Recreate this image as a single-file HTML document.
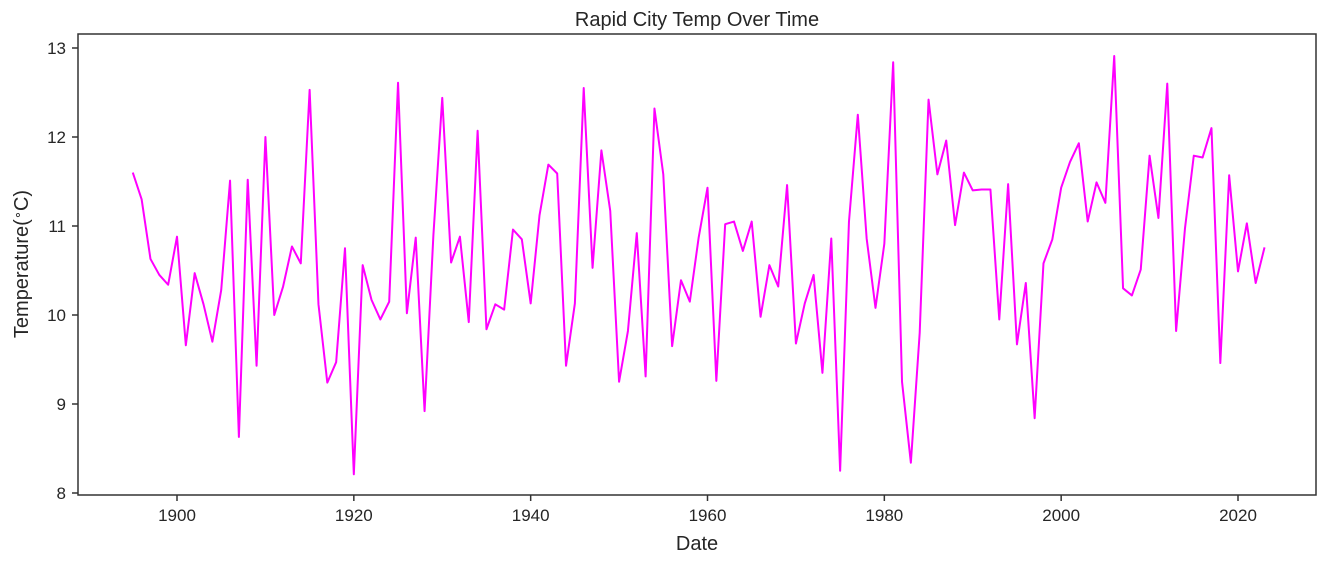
<!DOCTYPE html>
<html><head><meta charset="utf-8"><style>
body{margin:0;background:#fff;}
svg text{font-family:"Liberation Sans","DejaVu Sans",sans-serif;fill:#262626;}
</style></head><body>
<svg id="chart" width="1327" height="564" xmlns="http://www.w3.org/2000/svg">
<rect width="1327" height="564" fill="#fff"/>
<text x="697" y="26" font-size="20" text-anchor="middle">Rapid City Temp Over Time</text>
<text x="697" y="550" font-size="20" text-anchor="middle">Date</text>
<text x="28" y="264" font-size="20" text-anchor="middle" transform="rotate(-90 28 264)">Temperature(<tspan font-size="13" dy="-6">∘</tspan><tspan dy="6">C)</tspan></text>
<g id="ticks"></g>
<path id="line" fill="none" stroke="#ff00ff" stroke-width="2" stroke-linejoin="round"/>
<rect x="78" y="34" width="1238" height="461" fill="none" stroke="#333" stroke-width="1.5"/>
</svg>
<script>
const startYear = 1895;
const temps = [11.6,11.3,10.63,10.45,10.34,10.88,9.66,10.47,10.12,9.7,10.28,11.51,8.63,11.52,9.43,12.0,10.0,10.32,10.77,10.58,12.53,10.12,9.24,9.47,10.75,8.21,10.56,10.17,9.95,10.15,12.61,10.02,10.87,8.92,10.9,12.44,10.59,10.88,9.92,12.07,9.84,10.12,10.06,10.96,10.85,10.13,11.12,11.69,11.59,9.43,10.13,12.55,10.53,11.85,11.17,9.25,9.82,10.92,9.31,12.32,11.58,9.65,10.39,10.15,10.87,11.43,9.26,11.02,11.05,10.72,11.05,9.98,10.56,10.32,11.46,9.68,10.13,10.45,9.35,10.86,8.25,11.05,12.25,10.86,10.08,10.8,12.84,9.25,8.34,9.8,12.42,11.58,11.96,11.01,11.6,11.4,11.41,11.41,9.95,11.47,9.67,10.36,8.84,10.58,10.85,11.43,11.72,11.93,11.05,11.49,11.26,12.91,10.3,10.22,10.51,11.79,11.09,12.6,9.82,10.97,11.79,11.77,12.1,9.46,11.57,10.49,11.03,10.36,10.76];
const xTicks = [1900,1920,1940,1960,1980,2000,2020];
const yTicks = [8,9,10,11,12,13];
const xs = y => 177 + (y-1900)*(1238-177)/120;
const ys = v => 48 + (13-v)*89;
const NS='http://www.w3.org/2000/svg';
let d='';
temps.forEach((t,i)=>{d+=(i?'L':'M')+xs(startYear+i).toFixed(2)+' '+ys(t).toFixed(2);});
document.getElementById('line').setAttribute('d',d);
const g=document.getElementById('ticks');
xTicks.forEach(v=>{
  const l=document.createElementNS(NS,'line');
  l.setAttribute('x1',xs(v));l.setAttribute('x2',xs(v));l.setAttribute('y1',495);l.setAttribute('y2',501);l.setAttribute('stroke','#333');l.setAttribute('stroke-width','1.5');
  
  
  g.appendChild(l);
  const t=document.createElementNS(NS,'text');
  t.setAttribute('x',xs(v));t.setAttribute('y',521);t.setAttribute('font-size','17');t.setAttribute('text-anchor','middle');t.textContent=v;
  
  
  g.appendChild(t);
});
yTicks.forEach(v=>{
  const l=document.createElementNS(NS,'line');
  l.setAttribute('x1',72);l.setAttribute('x2',78);l.setAttribute('y1',ys(v));l.setAttribute('y2',ys(v));l.setAttribute('stroke','#333');l.setAttribute('stroke-width','1.5');
  
  
  g.appendChild(l);
  const t=document.createElementNS(NS,'text');
  t.setAttribute('x',66);t.setAttribute('y',ys(v)+6);t.setAttribute('font-size','17');t.setAttribute('text-anchor','end');t.textContent=v;
  
  
  g.appendChild(t);
});
</script>
</body></html>
